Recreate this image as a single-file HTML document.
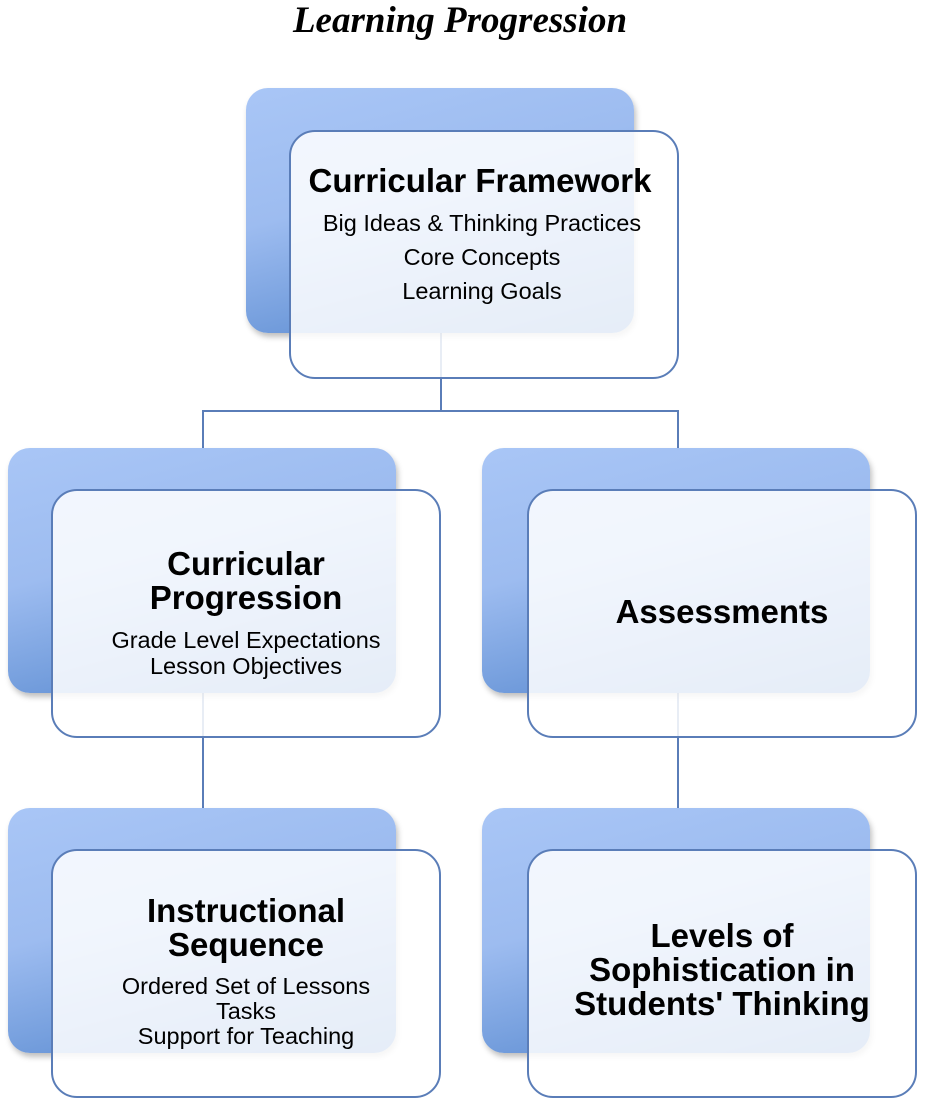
<!DOCTYPE html>
<html><head><style>
body{margin:0;width:926px;height:1100px;background:#fff;position:relative;overflow:hidden;font-family:"Liberation Sans",sans-serif}
.t{position:absolute;left:0;width:920px;top:-1px;text-align:center;font:italic bold 37px "Liberation Serif",serif}
.b{position:absolute;width:388px;height:245px;border-radius:22px;background:linear-gradient(165deg,#a9c6f6 0%,#9dbcf0 40%,#4a7fc9 100%);box-shadow:2px 4px 6px rgba(0,0,0,.25)}
.f{position:absolute;width:386px;height:245px;border-radius:26px;border:2px solid #5a7db8;background:rgba(255,255,255,.86);text-align:center;color:#000}
.l{position:absolute;background:#5a7db8}
h2{margin:0;font-size:33px;font-weight:bold;line-height:34px}
p{margin:0;font-size:23.5px;line-height:26px}
</style></head><body>
<div class="t">Learning Progression</div>
<div class="l" style="left:440px;top:333px;width:2px;height:78px"></div>
<div class="l" style="left:202px;top:410px;width:477px;height:2px"></div>
<div class="l" style="left:202px;top:410px;width:2px;height:40px"></div>
<div class="l" style="left:677px;top:410px;width:2px;height:40px"></div>
<div class="l" style="left:202px;top:693px;width:2px;height:116px"></div>
<div class="l" style="left:677px;top:693px;width:2px;height:116px"></div>

<div class="b" style="left:246px;top:88px"></div>
<div class="f" style="left:289px;top:130px"><h2 style="margin-top:32px;margin-left:-8px">Curricular Framework</h2><p style="margin-top:8px;line-height:34px;margin-left:-4px">Big Ideas &amp; Thinking Practices<br>Core Concepts<br>Learning Goals</p></div>

<div class="b" style="left:8px;top:448px"></div>
<div class="f" style="left:51px;top:489px"><h2 style="margin-top:56px">Curricular<br>Progression</h2><p style="margin-top:12px">Grade Level Expectations<br>Lesson Objectives</p></div>

<div class="b" style="left:482px;top:448px"></div>
<div class="f" style="left:527px;top:489px"><h2 style="margin-top:104px">Assessments</h2></div>

<div class="b" style="left:8px;top:808px"></div>
<div class="f" style="left:51px;top:849px"><h2 style="margin-top:43px">Instructional<br>Sequence</h2><p style="margin-top:12px;line-height:25px">Ordered Set of Lessons<br>Tasks<br>Support for Teaching</p></div>

<div class="b" style="left:482px;top:808px"></div>
<div class="f" style="left:527px;top:849px"><h2 style="margin-top:68px">Levels of<br>Sophistication in<br>Students' Thinking</h2></div>
</body></html>
